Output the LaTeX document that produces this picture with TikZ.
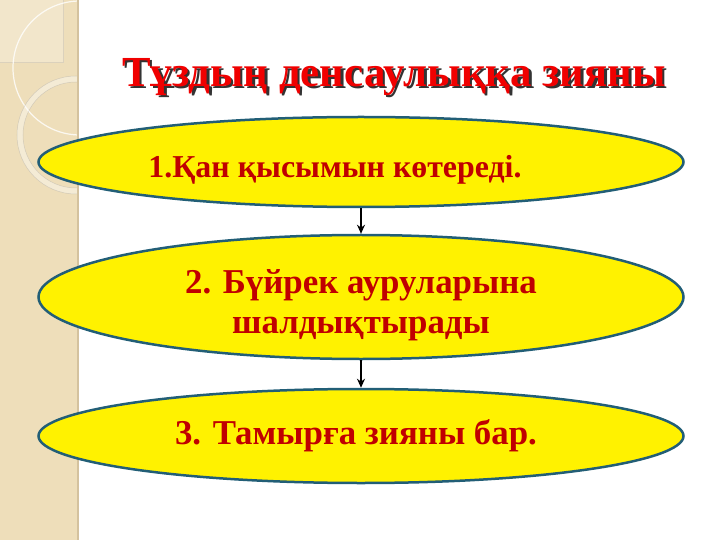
\documentclass[tikz,border=0pt]{standalone}
\usepackage{fontspec}
\setmainfont{Liberation Serif}
\usetikzlibrary{shapes.geometric,positioning,arrows.meta}
\definecolor{stripbeige}{RGB}{238,222,186}
\definecolor{stripedge}{RGB}{212,194,158}
\definecolor{ovalblue}{RGB}{34,94,118}
\definecolor{textred}{RGB}{192,0,0}
\definecolor{titlered}{RGB}{240,0,0}
\begin{document}
\begin{tikzpicture}[x=1bp,y=-1bp,
        oval/.style={ellipse, draw=ovalblue, line width=2.5bp, fill=yellow,
            minimum width=645bp, inner sep=0pt, align=center, text=textred},
        smallfont/.style={font=\bfseries\fontsize{32}{36}\selectfont},
        bigfont/.style={font=\bfseries\fontsize{35}{40}\selectfont},
        titlefont/.style={font=\bfseries\fontsize{43}{48}\selectfont},
        link/.style={-{Stealth[length=9bp,width=8bp]}, line width=1.5bp}]
    \useasboundingbox (0,0) rectangle (720,540);
    % left strip
    \fill[stripbeige] (0,0) rectangle (78,540);
    \begin{scope}
        \clip (0,0) rectangle (77,540);
        \fill[white, opacity=0.25] (0,0) rectangle (63,62);
        \draw[black!25, opacity=0.4, line width=0.6bp] (63,0) -- (63,62) -- (0,62);
        \draw[white, opacity=0.8, line width=1.2bp] (80,68) circle (67bp);
        \draw[white, line width=6bp, opacity=0.4] (76,135) circle (56bp);
        \draw[black!40, line width=0.5bp, opacity=0.35] (76,135) circle (59bp) (76,135) circle (53bp);
    \end{scope}
    \draw[stripedge, line width=2bp] (78,0) -- (78,540);
    % title
    \node[titlefont, text=black!80] (titleshadow) at (396.5,79.5) {Тұздың денсаулыққа зияны};
    \node[titlefont, text=titlered] (title) at (394,77) {Тұздың денсаулыққа зияны};
    % harms
    \node[oval, smallfont, minimum height=90bp] (harm1) at (361,162) {\hspace*{-52bp}\rule{0pt}{37bp}1.Қан қысымын көтереді.};
    \node[oval, bigfont, minimum height=124bp] (harm2) at (361,297) {\rule{0pt}{40bp}2. Бүйрек ауруларына\\шалдықтырады};
    \node[oval, bigfont, minimum height=94bp] (harm3) at (361,436) {\hspace*{-10bp}3. Тамырға зияны бар.};
    % arrows
    \draw[link] (harm1) -- (harm2);
    \draw[link] (harm2) -- (harm3);
\end{tikzpicture}
\end{document}
